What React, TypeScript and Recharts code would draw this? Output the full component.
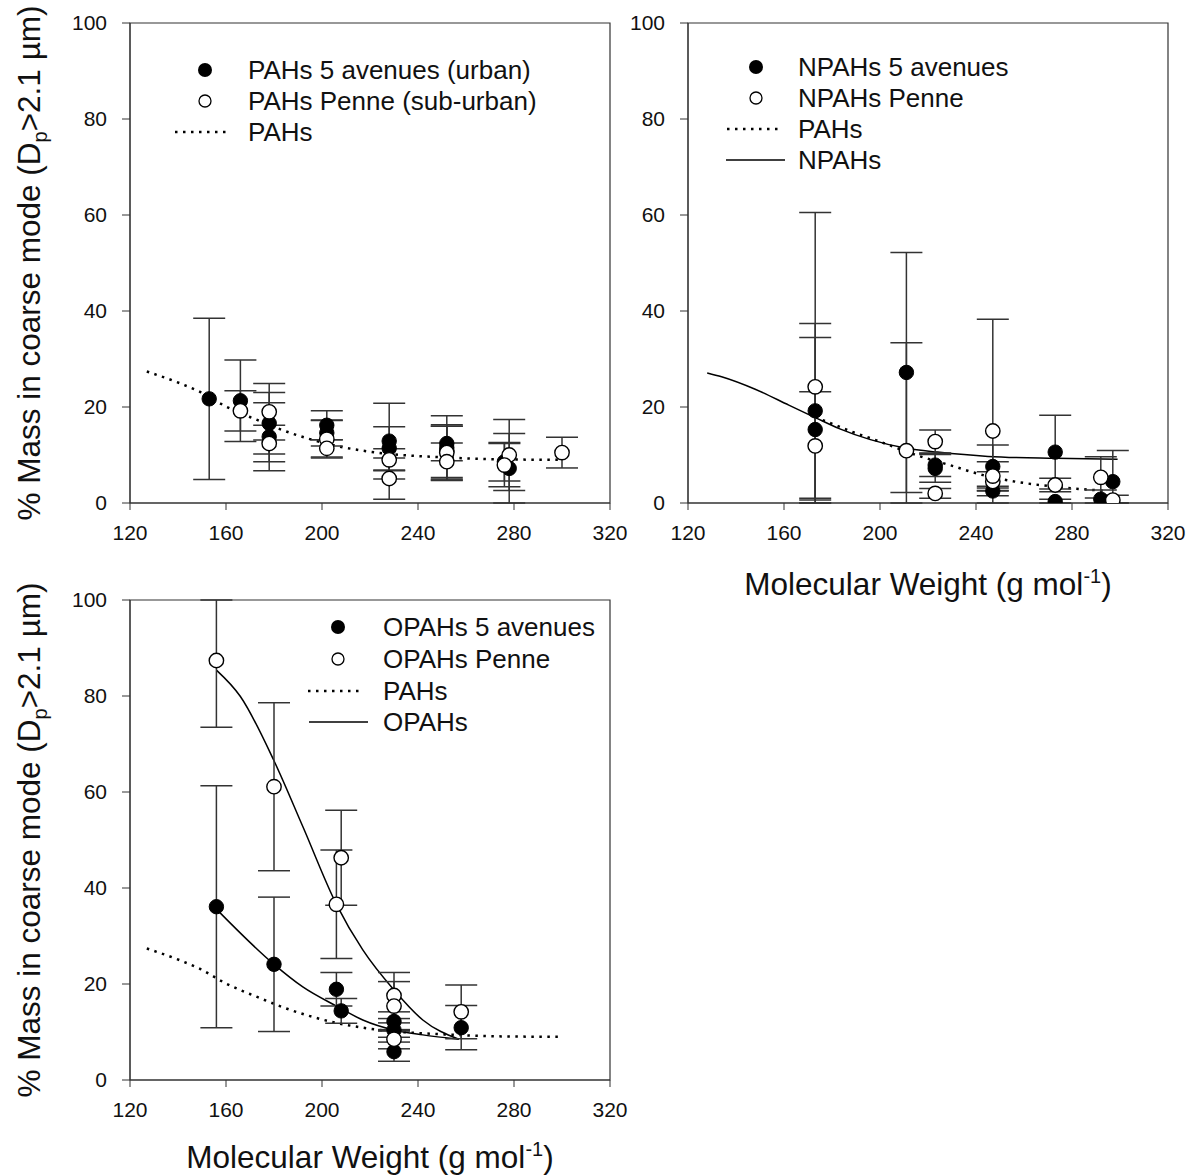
import React from 'react';
import { ComposedChart, Scatter, Line, XAxis, YAxis, ErrorBar, ReferenceArea } from 'recharts';

const FONT = '"Liberation Sans", Arial, sans-serif';
const X_TICKS = [120, 160, 200, 240, 280, 320];
const Y_TICKS = [0, 20, 40, 60, 80, 100];

// ---------- Panel A: PAHs ----------
const pahUrbanX = [153, 166, 178, 178, 202, 202, 228, 228, 252, 252, 252, 278, 276];
const pahUrbanY = [21.7, 21.3, 16.6, 13.8, 16.2, 14.6, 12.9, 11.4, 12.4, 11.5, 10.8, 7.2, 8.6];
const pahUrbanErr = [16.8, 8.5, 6.4, 7.1, 3.0, 2.7, 7.9, 4.5, 3.6, 6.7, 5.5, 7.3, 4.0];

const pahPenneX = [166, 178, 178, 202, 202, 228, 228, 252, 252, 278, 276, 300];
const pahPenneY = [19.2, 19.0, 12.4, 13.3, 11.4, 9.0, 5.1, 10.5, 8.6, 10.0, 7.9, 10.5];
const pahPenneErr = [4.2, 5.9, 3.8, 3.9, 1.8, 2.3, 4.3, 5.5, 3.9, 7.4, 4.5, 3.2];

const pahFitX = [127, 141, 149, 160, 173, 184, 195, 206, 217, 228, 239, 251, 273, 299];
const pahFitY = [27.4, 24.9, 23.2, 20.1, 17.3, 15.1, 13.3, 11.9, 10.9, 10.2, 9.8, 9.5, 9.1, 9.0];

// ---------- Panel B: NPAHs ----------
const npahUrbanX = [173, 173, 211, 223, 223, 247, 247, 273, 273, 292, 297];
const npahUrbanY = [19.2, 15.3, 27.2, 7.9, 7.2, 7.6, 2.5, 10.6, 0.3, 0.8, 4.45];
const npahUrbanErr = [18.2, 19.2, 25.0, 2.4, 2.9, 4.5, 1.0, 7.7, 0.5, 1.9, 6.5];

const npahPenneX = [173, 173, 211, 223, 223, 247, 247, 247, 273, 292, 297];
const npahPenneY = [24.2, 11.9, 10.9, 12.8, 2.0, 15.0, 4.5, 5.6, 3.75, 5.35, 0.6];
const npahPenneErr = [36.3, 11.3, 22.5, 2.4, 1.0, 23.3, 2.0, 3.0, 1.4, 4.3, 1.0];

const npahFitX = [128, 134, 148, 162, 173, 183, 196, 211, 224, 245, 273, 299];
const npahFitY = [27.1, 26.3, 23.7, 20.4, 17.8, 15.5, 13.2, 11.4, 10.6, 9.7, 9.3, 9.1];

const pahFitBX = [173, 181, 188, 196, 202, 215, 229, 243, 257, 271, 285, 295];
const pahFitBY = [17.9, 16.3, 14.9, 13.5, 12.4, 10.0, 7.9, 5.8, 4.4, 3.5, 2.85, 2.5];

// ---------- Panel C: OPAHs ----------
const opahUrbanX = [156, 180, 206, 208, 230, 230, 230, 258];
const opahUrbanY = [36.1, 24.1, 18.9, 14.4, 12.2, 10.4, 5.9, 10.9];
const opahUrbanErr = [25.2, 14.0, 3.5, 2.6, 2.0, 1.5, 2.0, 4.6];

const opahPenneX = [156, 180, 206, 208, 230, 230, 230, 258];
const opahPenneY = [87.4, 61.1, 36.6, 46.3, 17.6, 15.4, 8.5, 14.2];
const opahPenneErr = [13.9, 17.5, 11.3, 9.9, 4.8, 5.1, 2.0, 5.6];

const opahPenneFitX = [156, 166, 180, 192, 206, 217, 230, 242, 257];
const opahPenneFitY = [85.4, 79.9, 66.5, 52.8, 36.6, 27.1, 18.75, 12.5, 8.5];

const opahUrbanFitX = [156, 180, 192, 206, 217, 230, 242, 257];
const opahUrbanFitY = [35.6, 24.1, 19.4, 15.4, 12.5, 10.4, 9.4, 8.5];

const Y_MIN = 0;
const Y_MAX = 100;

// error range clipped to the plotted y domain (the original plot clips bars at the frame)
const pts = (xs: number[], ys: number[], es?: number[]) =>
  xs.map((x, i) => {
    const y = ys[i];
    const e = es ? es[i] : 0;
    return { x, y, err: [Math.min(e, y - Y_MIN), Math.min(e, Y_MAX - y)] };
  });

const AX = '#333';
const DOT = '2.5 5.5';

const filledShape = (p: any) => (
  <circle cx={p.cx} cy={p.cy} r={7.2} fill="#000" stroke="#000" strokeWidth={1} />
);
const openShape = (p: any) => (
  <circle cx={p.cx} cy={p.cy} r={7.2} fill="#fff" stroke="#000" strokeWidth={1.4} />
);

type Curve = { data: any[]; dotted: boolean };
type Series = { data: any[]; filled: boolean };

function Panel({ left, top, width, marginRight, series, curves }: {
  left: number; top: number; width: number; marginRight: number; series: Series[]; curves: Curve[];
}) {
  return (
    <div style={{ position: 'absolute', left, top }}>
      <ComposedChart width={width} height={560} margin={{ top: 23, right: marginRight, bottom: 0, left: 0 }}>
        <XAxis
          dataKey="x" type="number" domain={[120, 320]} ticks={X_TICKS} allowDataOverflow
          height={57} tickSize={7} tickMargin={15} stroke={AX}
          tick={{ fill: '#111', fontSize: 21, fontFamily: FONT }}
        />
        <YAxis
          dataKey="y" type="number" domain={[Y_MIN, Y_MAX]} ticks={Y_TICKS} allowDataOverflow
          width={130} tickSize={8} tickMargin={15} stroke={AX}
          tick={{ fill: '#111', fontSize: 21, fontFamily: FONT }}
        />
        <ReferenceArea x1={120} x2={320} y1={Y_MIN} y2={Y_MAX} fill="none" fillOpacity={0} stroke={AX} strokeWidth={1.2} />
        {curves.map((c, i) => (
          <Line
            key={'c' + i} data={c.data} dataKey="y" type="monotone" dot={false} activeDot={false}
            stroke="#000" strokeWidth={c.dotted ? 2.5 : 1.5}
            strokeDasharray={c.dotted ? DOT : undefined} isAnimationActive={false}
          />
        ))}
        {series.map((s, i) => (
          <Scatter key={'s' + i} data={s.data} shape={s.filled ? filledShape : openShape} isAnimationActive={false}>
            <ErrorBar dataKey="err" direction="y" width={16} stroke={AX} strokeWidth={1.5} />
          </Scatter>
        ))}
      </ComposedChart>
    </div>
  );
}

const LEG_FS = 26;

function LegendRow({ x, y, kind, label, textX }: { x: number; y: number; kind: string; label: string; textX: number }) {
  let sym: any = null;
  if (kind === 'filled') sym = <circle cx={x} cy={y} r={7} fill="#000" />;
  else if (kind === 'open') sym = <circle cx={x} cy={y} r={6} fill="#fff" stroke="#000" strokeWidth={1.3} />;
  else if (kind === 'dotted')
    sym = <line x1={x - 28} x2={x + 28} y1={y} y2={y} stroke="#000" strokeWidth={2.5} strokeDasharray={DOT} />;
  else sym = <line x1={x - 29} x2={x + 30} y1={y} y2={y} stroke="#000" strokeWidth={1.5} />;
  return (
    <g>
      {sym}
      <text x={textX} y={y} dy="0.36em" fontSize={LEG_FS} fontFamily={FONT} fill="#111">{label}</text>
    </g>
  );
}

const TITLE_FS = 31.5;

function YTitle({ cx, cy }: { cx: number; cy: number }) {
  return (
    <text transform={`translate(${cx},${cy}) rotate(-90)`} textAnchor="middle" fontSize={TITLE_FS} fontFamily={FONT} fill="#111">
      <tspan>% Mass in coarse mode (D</tspan>
      <tspan fontSize={20} dy={7}>p</tspan>
      <tspan dy={-7}>&gt;2.1 µm)</tspan>
    </text>
  );
}

function XTitle({ cx, y }: { cx: number; y: number }) {
  return (
    <text x={cx} y={y} textAnchor="middle" fontSize={TITLE_FS} fontFamily={FONT} fill="#111">
      <tspan>Molecular Weight (g mol</tspan>
      <tspan fontSize={20} dy={-12}>-1</tspan>
      <tspan dy={12}>)</tspan>
    </text>
  );
}

export default function App() {
  const panelA: Series[] = [
    { data: pts(pahUrbanX, pahUrbanY, pahUrbanErr), filled: true },
    { data: pts(pahPenneX, pahPenneY, pahPenneErr), filled: false },
  ];
  const panelB: Series[] = [
    { data: pts(npahUrbanX, npahUrbanY, npahUrbanErr), filled: true },
    { data: pts(npahPenneX, npahPenneY, npahPenneErr), filled: false },
  ];
  const panelC: Series[] = [
    { data: pts(opahUrbanX, opahUrbanY, opahUrbanErr), filled: true },
    { data: pts(opahPenneX, opahPenneY, opahPenneErr), filled: false },
  ];
  const pahCurve = pts(pahFitX, pahFitY);
  return (
    <div style={{ position: 'absolute', left: 0, top: 0, width: 1189, height: 1176, background: '#fff', overflow: 'hidden' }}>
      <Panel left={0} top={0} width={640} marginRight={30} series={panelA}
        curves={[{ data: pahCurve, dotted: true }]} />
      <Panel left={558} top={0} width={631} marginRight={21} series={panelB}
        curves={[{ data: pts(npahFitX, npahFitY), dotted: false }, { data: pts(pahFitBX, pahFitBY), dotted: true }]} />
      <Panel left={0} top={577} width={640} marginRight={30} series={panelC}
        curves={[
          { data: pahCurve, dotted: true },
          { data: pts(opahPenneFitX, opahPenneFitY), dotted: false },
          { data: pts(opahUrbanFitX, opahUrbanFitY), dotted: false },
        ]} />
      <svg width={1189} height={1176} style={{ position: 'absolute', left: 0, top: 0, pointerEvents: 'none' }}>
        <YTitle cx={40} cy={263} />
        <YTitle cx={40} cy={840} />
        <XTitle cx={928} y={595} />
        <XTitle cx={370} y={1168} />

        <LegendRow x={205} y={70} kind="filled" label="PAHs 5 avenues (urban)" textX={248} />
        <LegendRow x={205} y={101} kind="open" label="PAHs Penne (sub-urban)" textX={248} />
        <LegendRow x={203} y={132} kind="dotted" label="PAHs" textX={248} />

        <LegendRow x={756} y={67} kind="filled" label="NPAHs 5 avenues" textX={798} />
        <LegendRow x={756} y={98} kind="open" label="NPAHs Penne" textX={798} />
        <LegendRow x={755} y={129} kind="dotted" label="PAHs" textX={798} />
        <LegendRow x={755} y={160} kind="solid" label="NPAHs" textX={798} />

        <LegendRow x={338} y={627} kind="filled" label="OPAHs 5 avenues" textX={383} />
        <LegendRow x={338} y={659} kind="open" label="OPAHs Penne" textX={383} />
        <LegendRow x={336} y={691} kind="dotted" label="PAHs" textX={383} />
        <LegendRow x={338} y={722} kind="solid" label="OPAHs" textX={383} />
      </svg>
    </div>
  );
}
